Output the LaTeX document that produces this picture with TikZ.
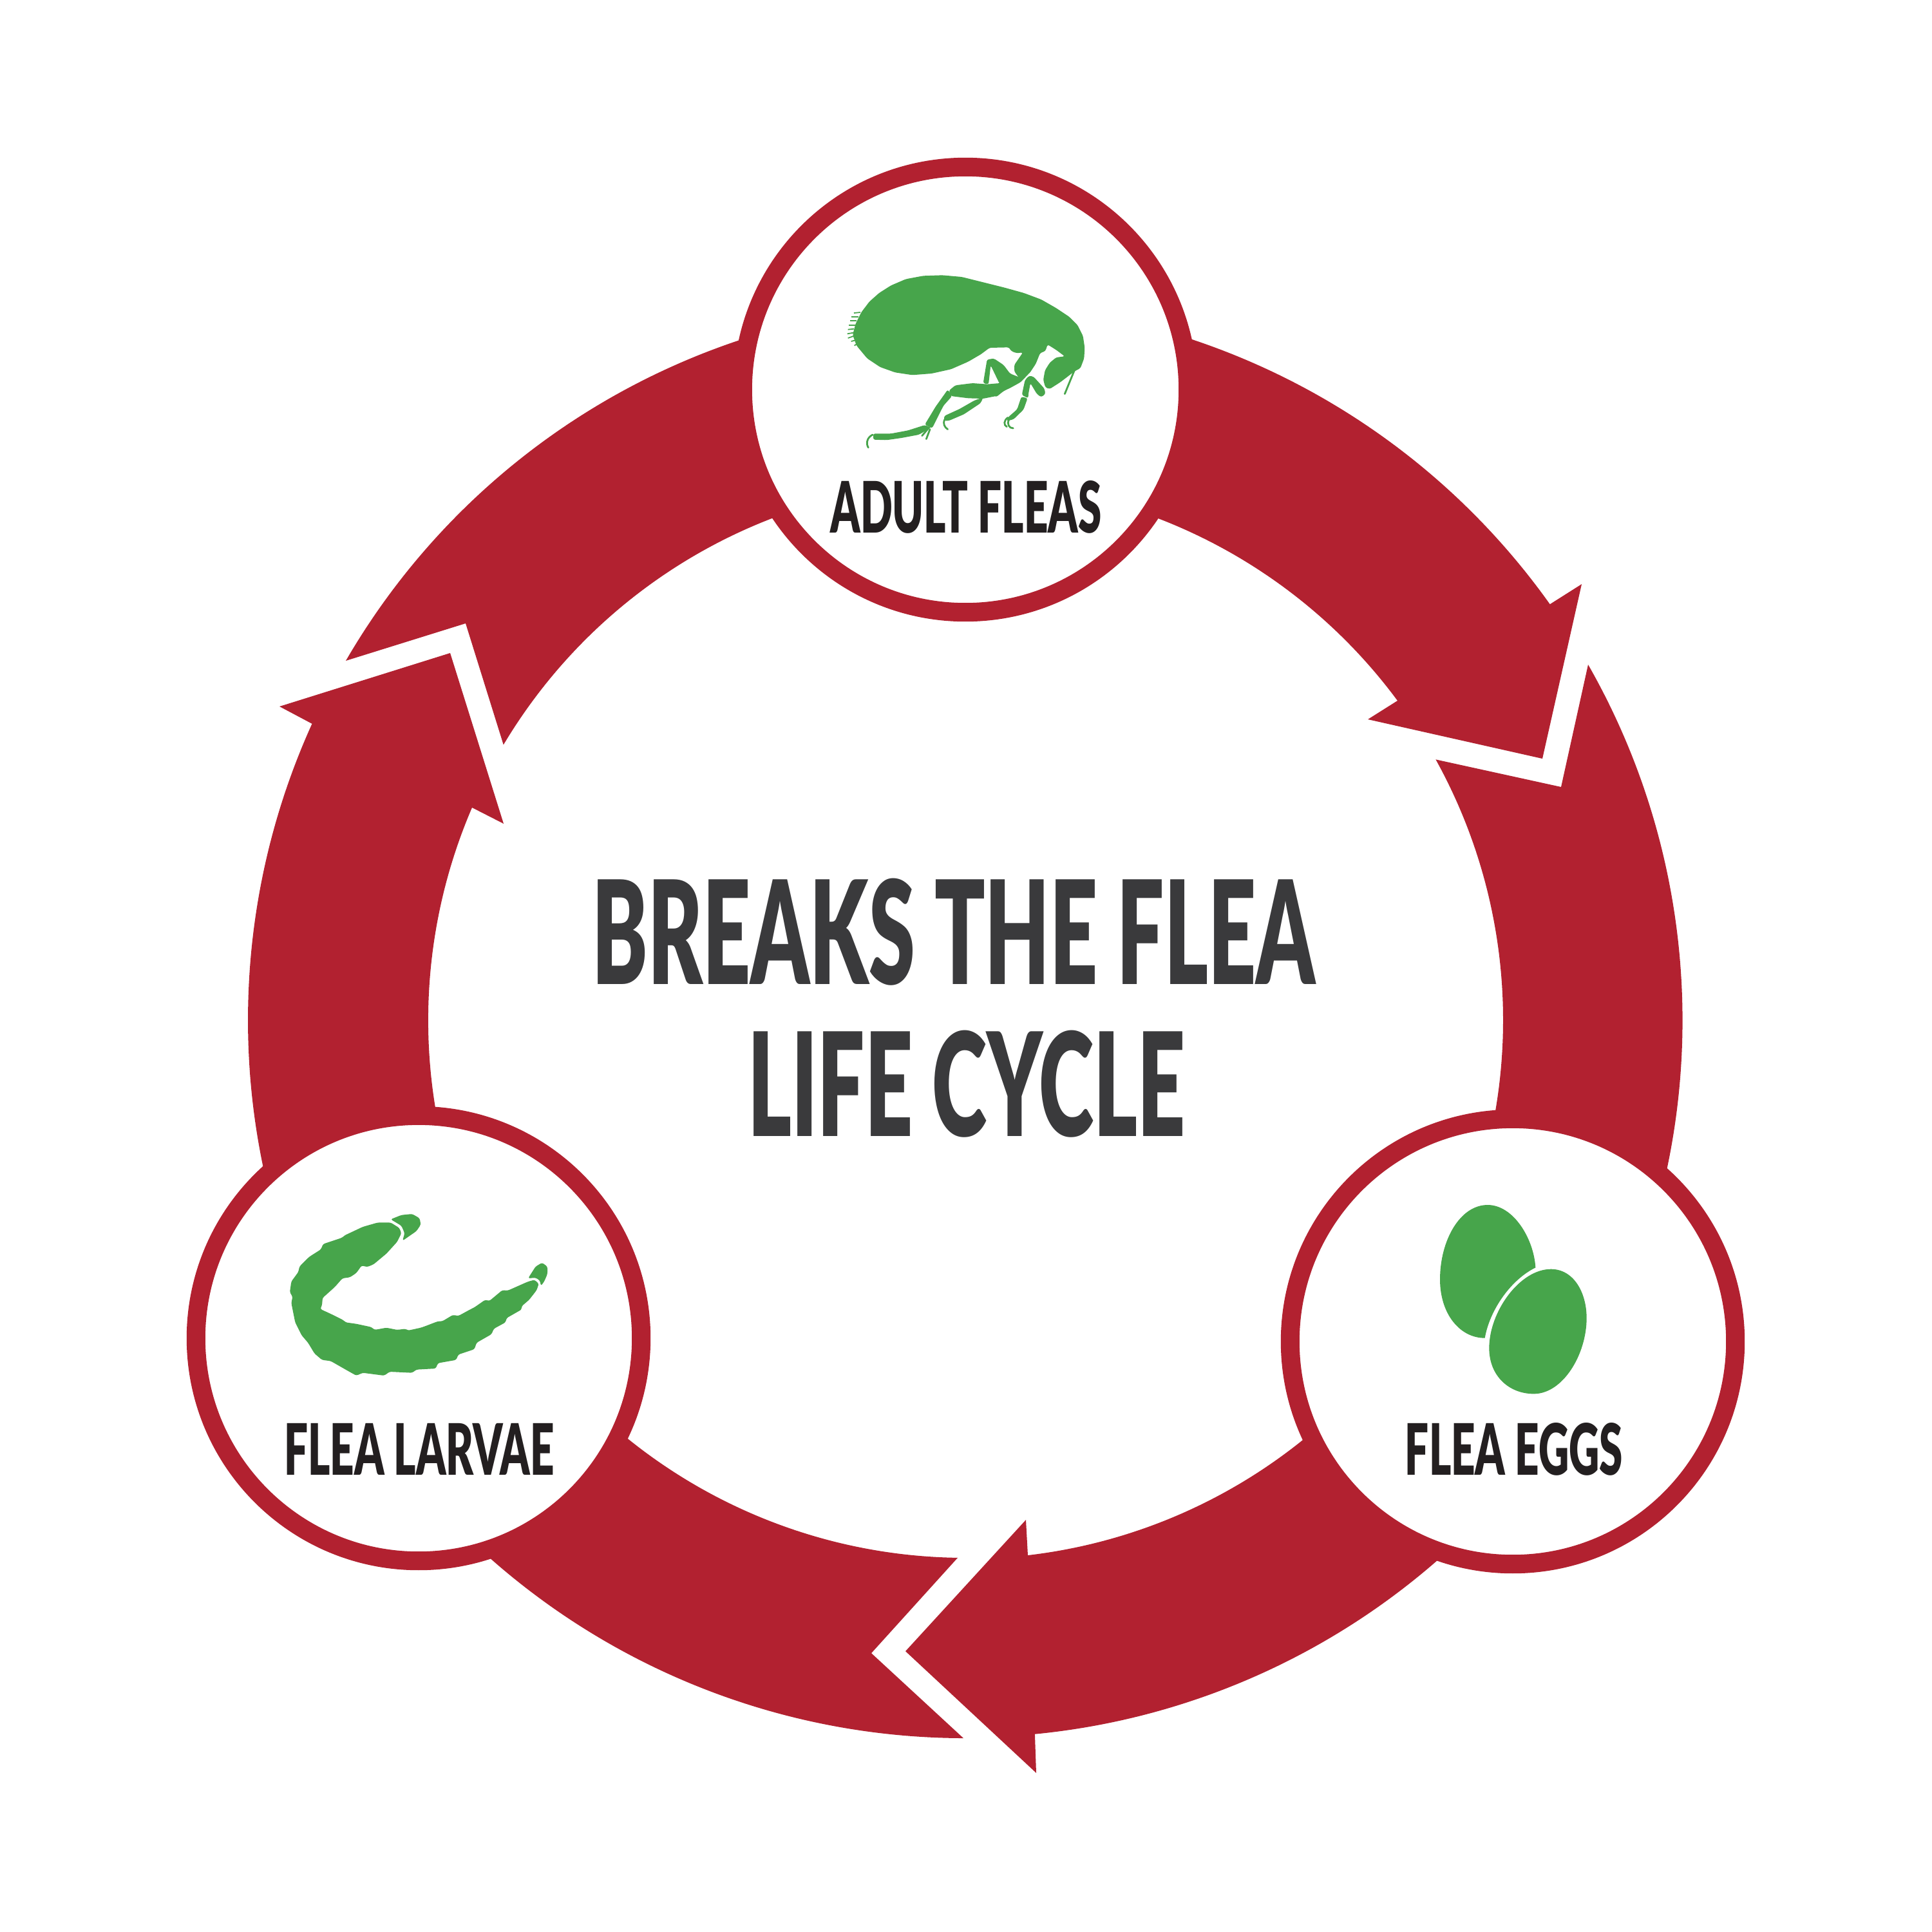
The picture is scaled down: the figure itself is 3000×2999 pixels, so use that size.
\documentclass[tikz,border=0pt]{standalone}
\usepackage{fontspec}
\usetikzlibrary{calc}
\newfontfamily\titlefont[FakeStretch=0.58]{Lato Black}
\newfontfamily\labelfont[FakeStretch=0.595]{Lato Black}
\definecolor{ringred}{RGB}{178,33,48}
\definecolor{fleagreen}{RGB}{71,165,75}
\definecolor{titlegrey}{RGB}{58,58,60}
\definecolor{labelblack}{RGB}{35,31,32}
\tikzset{
  stage/.style={circle,draw=ringred,fill=white,line width=0.29cm,minimum size=6.91cm,inner sep=0pt},
  stagelabel/.style={anchor=base,inner sep=0pt,text=labelblack,font=\labelfont\fontsize{31.3}{32}\selectfont},
  titleline/.style={anchor=base,inner sep=0pt,text=titlegrey,font=\titlefont\fontsize{63.5}{65}\selectfont},
  ringpart/.style={fill=ringred},
  bug/.style={fill=fleagreen,rounded corners=0.8pt},
  bugline/.style={draw=fleagreen,line width=0.8pt,line cap=round},
}
\begin{document}
\begin{tikzpicture}[x=0.01cm,y=-0.01cm]
	%%%%% START %%%%%
	\def\rsm{835}
	\def\rlg{1114}
	\useasboundingbox (0,0) rectangle (3000,2999);
	\coordinate (ring) at (1499,1584);

	%% arrow, adult to eggs
	\fill[ringpart] ($(ring)+(-80:\rlg)$) arc (-80:-35.43:\rlg) -- (2456,907) -- (2395,1178) -- (2124,1117) -- (2170,1088) arc (-36.47:-80:\rsm) -- cycle;
	\fill[ringpart] (2466,1032) arc (-29.72:18:\rlg) -- ($(ring)+(18:\rsm)$) arc (18:-28.99:\rsm) -- (2424,1222) -- cycle;
	%% arrow, eggs to larvae
	\fill[ringpart] ($(ring)+(40:\rlg)$) arc (40:84.44:\rlg) -- (1609,2753) -- (1406,2564) -- (1593,2360) -- (1596,2415) arc (83.34:40:\rsm) -- cycle;
	\fill[ringpart] (1496,2699) arc (90.15:140:\rlg) -- ($(ring)+(140:\rsm)$) arc (140:90.82:\rsm) -- (1353,2567) -- cycle;
	%% arrow, larvae to adult
	\fill[ringpart] ($(ring)+(160:\rlg)$) arc (160:204.4:\rlg) -- (434,1097) -- (699,1014) -- (782,1279) -- (733,1254) arc (203.3:160:\rsm) -- cycle;
	\fill[ringpart] (537,1026) arc (210.12:260:\rlg) -- ($(ring)+(260:\rsm)$) arc (260:210.8:\rsm) -- (723,968) -- cycle;

	\node[stage] (adult) at (1499,605) {};
	\node[stage] (larvae) at (650,2078) {};
	\node[stage] (eggs) at (2349,2083) {};

	\node[titleline] (titleone) at (1481,1528) {BREAKS THE FLEA};
	\node[titleline] (titletwo) at (1501,1764) {LIFE CYCLE};
	\node[stagelabel] (adultname) at (1500,827) {ADULT FLEAS};
	\node[stagelabel] (larvaename) at (651,2290) {FLEA LARVAE};
	\node[stagelabel] (eggsname) at (2351,2290) {FLEA EGGS};

	%% flea
	\begin{scope}[shift={(1250,380)},scale=1/3]
		\fill[bug] (222,420) -- (235,370) -- (262,315) -- (300,265) -- (345,225) -- (400,190) -- (470,160) -- (550,145) -- (640,142) -- (730,150) -- (830,175) -- (930,200) -- (1020,225) -- (1100,255) -- (1170,295) -- (1230,335) -- (1270,375) -- (1295,425) -- (1303,480) -- (1300,530) -- (1283,575) -- (1255,590) -- (1190,640) -- (1140,672) -- (1120,665) -- (1110,630) -- (1118,585) -- (1140,550) -- (1170,525) -- (1210,520) -- (1170,490) -- (1130,465) -- (1120,495) -- (1095,505) -- (1075,555) -- (1045,600) -- (1000,625) -- (975,590) -- (975,560) -- (1015,502) -- (985,505) -- (960,495) -- (950,478) -- (860,480) -- (820,510) -- (760,545) -- (680,580) -- (590,600) -- (500,607) -- (420,595) -- (350,570) -- (290,530) -- (240,470) -- cycle;
		\fill[bug] (830,645) -- (848,535) -- (880,530) -- (925,560) -- (955,600) -- (1005,620) -- (965,655) -- (905,645) -- (865,562) -- (855,650) -- cycle;
		\fill[bug] (670,680) -- (700,655) -- (780,645) -- (850,650) -- (905,645) -- (925,670) -- (890,705) -- (830,717) -- (760,715) -- (680,705) -- cycle;
		\fill[bug] (1000,615) -- (1045,598) -- (1005,640) -- (960,665) -- (925,682) -- (890,710) -- (860,690) -- (905,640) -- (965,640) -- cycle;
		\fill[bug] (665,675) -- (685,705) -- (645,750) -- (592,855) -- (558,838) -- (608,755) -- cycle;
		\fill[bug] (558,840) -- (588,852) -- (530,885) -- (450,900) -- (380,910) -- (318,908) -- (318,880) -- (400,880) -- (480,865) -- cycle;
		\fill[bug] (830,712) -- (818,738) -- (740,790) -- (670,820) -- (648,820) -- (648,798) -- (720,765) -- (790,725) -- cycle;
		\fill[bug] (1010,700) -- (1025,630) -- (1045,610) -- (1065,615) -- (1115,670) -- (1120,695) -- (1100,710) -- (1080,695) -- (1050,645) -- (1040,700) -- (1040,715) -- cycle;
		\fill[bug] (1008,708) -- (1037,715) -- (1018,768) -- (972,813) -- (938,822) -- (948,802) -- (988,767) -- cycle;
		\draw[bugline] (1255,585) -- (1210,695);
		\draw[bugline] (315,885) .. controls (285,900) and (285,930) .. (295,945);
		\draw[bugline] (650,815) .. controls (642,835) and (650,850) .. (665,860);
		\draw[bugline] (945,805) .. controls (925,820) and (925,840) .. (940,848);
		\draw[bugline] (950,815) .. controls (940,835) and (950,855) .. (970,855);
		\draw[bugline] (575,855) -- (545,890);
		\draw[bugline] (582,860) -- (565,905);
		\foreach \xa/\ya/\xb/\yb in {228/318/258/315,215/335/250/335,210/355/240/355,205/375/235/375,200/395/228/392,197/415/225/410,200/435/228/425,215/450/235/445,230/470/245/460}
			\draw[draw=fleagreen,line width=0.5pt] (\xa,\ya) -- (\xb,\yb);
	\end{scope}

	%% larva
	\begin{scope}[shift={(420,1850)},scale=1/3]
		\fill[bug] (610,195) -- (590,235) -- (540,290) -- (480,340) -- (450,352) -- (425,345) -- (400,380) -- (370,400) -- (335,405) -- (300,445) -- (250,490) -- (243,495) -- (240,530) -- (232,548) -- (280,570) -- (340,600) -- (350,610) -- (400,617) -- (470,632) -- (485,645) -- (540,635) -- (590,645) -- (630,640) -- (640,648) -- (700,635) -- (720,628) -- (780,605) -- (800,605) -- (850,575) -- (875,580) -- (930,550) -- (950,540) -- (1000,505) -- (1020,510) -- (1080,460) -- (1105,462) -- (1200,420) -- (1230,412) -- (1250,430) -- (1240,460) -- (1205,505) -- (1170,535) -- (1170,550) -- (1100,590) -- (1095,610) -- (1040,640) -- (1030,665) -- (960,705) -- (950,735) -- (875,760) -- (865,785) -- (780,800) -- (770,825) -- (680,830) -- (660,845) -- (555,840) -- (530,858) -- (430,845) -- (400,858) -- (350,830) -- (280,790) -- (240,785) -- (205,755) -- (175,705) -- (145,670) -- (115,610) -- (97,520) -- (103,490) -- (90,470) -- (97,420) -- (130,375) -- (135,350) -- (180,305) -- (235,270) -- (245,245) -- (335,215) -- (345,205) -- (430,165) -- (500,145) -- (560,145) -- (600,170) -- cycle;
		\fill[bug] (560,130) -- (610,110) -- (660,105) -- (695,125) -- (700,155) -- (680,185) -- (615,230) -- (625,195) -- (610,160) -- cycle;
		\fill[bug] (1200,405) -- (1235,350) -- (1265,332) -- (1290,350) -- (1290,385) -- (1275,420) -- (1260,440) -- (1255,415) -- (1235,402) -- cycle;
	\end{scope}

	%% eggs
	\begin{scope}[shift={(2150,1820)},scale=1/3]
		\fill[fleagreen] (703,445) .. controls (695,310) and (600,153) .. (480,153) .. controls (350,153) and (258,320) .. (258,500) .. controls (258,660) and (350,773) .. (467,773) .. controls (490,640) and (590,500) .. cycle;
		\fill[fleagreen] (775,452) .. controls (880,452) and (941,560) .. (941,680) .. controls (941,850) and (830,1033) .. (695,1033) .. controls (580,1033) and (487,950) .. (487,820) .. controls (487,650) and (630,452) .. cycle;
	\end{scope}
	%%%%% END %%%%%
\end{tikzpicture}
\end{document}
